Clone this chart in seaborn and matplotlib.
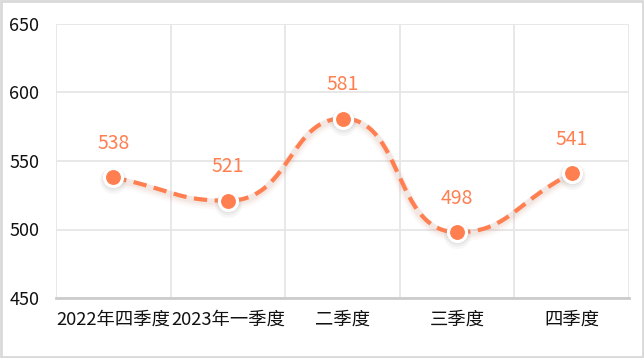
import numpy as np
import pandas as pd
import matplotlib
matplotlib.use("Agg")
import matplotlib.pyplot as plt
import seaborn as sns
from matplotlib.patches import Rectangle

categories = ["2022年四季度", "2023年一季度", "二季度", "三季度", "四季度"]
values = [538, 521, 581, 498, 541]
y_ticks = [450, 500, 550, 600, 650]

sns.set_theme(style="white")
plt.rcParams['font.family'] = ['Noto Sans CJK SC', 'DejaVu Sans']

color = "#FF7F50"

fig = plt.figure(figsize=(6.44, 3.58), dpi=100)
ax = fig.add_axes([56/644, 60/358, (629-56)/644, (298-24)/358])

df = pd.DataFrame({"cat": categories, "val": values, "x": np.arange(len(categories))})

XS = 573/5          # pixels per category
YS = 274/200        # pixels per value unit

def smooth_path(xs, ys, smooth=0.5, n=50):
    # echarts-like smoothing with control points clamped to segment bounding box
    X = np.asarray(xs, float) * XS
    Y = np.asarray(ys, float) * YS
    m = len(X)
    cin = [None]*m
    cout = [None]*m
    for i in range(m):
        x, y = X[i], Y[i]
        if i == 0:
            nx, ny = X[1], Y[1]
            cout[i] = (x + (nx-x)*smooth, y + (ny-y)*smooth)
            continue
        if i == m-1:
            px_, py_ = X[i-1], Y[i-1]
            cin[i] = (x - (x-px_)*smooth, y - (y-py_)*smooth)
            continue
        px_, py_ = X[i-1], Y[i-1]
        nx, ny = X[i+1], Y[i+1]
        vx, vy = nx-px_, ny-py_
        lp = np.hypot(x-px_, y-py_)
        ln = np.hypot(nx-x, ny-y)
        r = ln/(ln+lp)
        c0x = x + vx*smooth*r
        c0y = y + vy*smooth*r
        c0x = min(c0x, max(nx, x)); c0y = min(c0y, max(ny, y))
        c0x = max(c0x, min(nx, x)); c0y = max(c0y, min(ny, y))
        vx, vy = c0x-x, c0y-y
        c1x = x - vx*lp/ln; c1y = y - vy*lp/ln
        c1x = min(c1x, max(px_, x)); c1y = min(c1y, max(py_, y))
        c1x = max(c1x, min(px_, x)); c1y = max(c1y, min(py_, y))
        vx, vy = x-c1x, y-c1y
        c0x = x + vx*ln/lp; c0y = y + vy*ln/lp
        cout[i] = (c0x, c0y)
        cin[i] = (c1x, c1y)
    ox, oy = [], []
    t = np.linspace(0, 1, n)
    for i in range(m-1):
        p0 = (X[i], Y[i]); p3 = (X[i+1], Y[i+1])
        c1 = cout[i]; c2 = cin[i+1]
        bx = (1-t)**3*p0[0] + 3*(1-t)**2*t*c1[0] + 3*(1-t)*t**2*c2[0] + t**3*p3[0]
        by = (1-t)**3*p0[1] + 3*(1-t)**2*t*c1[1] + 3*(1-t)*t**2*c2[1] + t**3*p3[1]
        ox.extend(bx); oy.extend(by)
    return np.array(ox)/XS, np.array(oy)/YS

sx, sy = smooth_path(df["x"], df["val"])
# soft shadow of the line
for off, a, lw in [(3.5, 0.05, 8), (2.5, 0.07, 6), (1.5, 0.09, 4.5)]:
    ax.plot(sx, sy - off/YS, color="#c98a78", alpha=a, lw=lw, solid_capstyle="round", zorder=2)
ax.plot(sx, sy, color=color, lw=3, dashes=(3.2, 1.8), zorder=3)

# marker shadows
for off, a, s in [(3.0, 0.08, 380), (2.0, 0.10, 300), (1.0, 0.13, 240)]:
    ax.scatter(df["x"], df["val"] - off/YS, s=s, color="#999999", alpha=a, linewidths=0, zorder=4)

sns.scatterplot(data=df, x="x", y="val", ax=ax, s=170, color=color,
                edgecolor="white", linewidth=2.3, zorder=5, legend=False)

for x, v in zip(df["x"], df["val"]):
    ax.annotate(str(v), (x, v), xytext=(0, 24.5), textcoords="offset points",
                ha="center", va="center", color=color, fontsize=14)

ax.set_xlim(-0.5, len(categories) - 0.5)
ax.set_ylim(450, 650)
ax.set_yticks(y_ticks)
ax.set_yticklabels([str(t) for t in y_ticks], fontsize=13, color="#111111")
ax.set_xticks(np.arange(len(categories)))
ax.set_xticklabels(categories, fontsize=13.2, color="#111111")
ax.set_xticks(np.arange(-0.5, len(categories)), minor=True)
ax.tick_params(axis="both", which="both", length=0)
ax.tick_params(axis="y", pad=12)
ax.tick_params(axis="x", pad=9)
ax.grid(False)
ax.grid(True, axis="y", which="major", color="#e6e6e6", lw=1.3)
ax.grid(True, axis="x", which="minor", color="#e6e6e6", lw=1.3)
for s in ["top", "right", "left"]:
    ax.spines[s].set_visible(False)
ax.spines["bottom"].set_color("#cccccc")
ax.spines["bottom"].set_linewidth(2)
ax.set_xlabel("")
ax.set_ylabel("")

fig.patches.append(Rectangle((0.0015, 0.003), 0.997, 0.994, transform=fig.transFigure,
                             fill=False, edgecolor="#d9d9d9", lw=2))

fig.savefig("out.png", dpi=100)
